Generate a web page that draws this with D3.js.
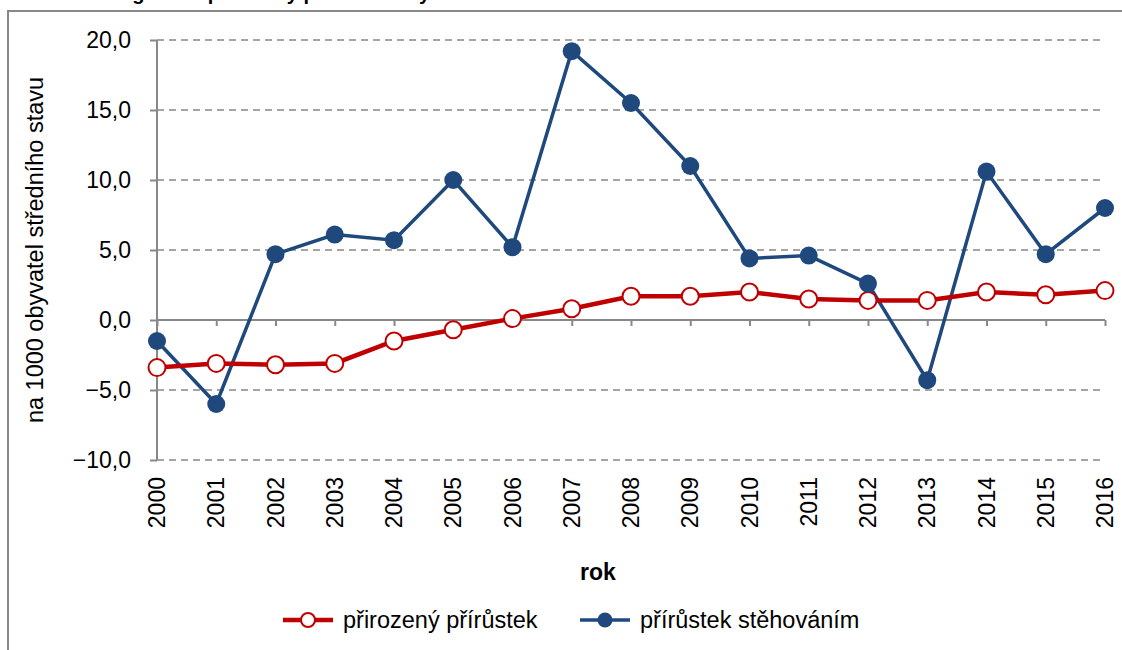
<!DOCTYPE html>
<html><head><meta charset="utf-8">
<script src="https://cdn.jsdelivr.net/npm/d3@7"></script>
<style>body{margin:0;background:#fff}svg{display:block;font-family:"Liberation Sans",Arial,sans-serif}</style>
</head><body><svg id="c" width="1122" height="650"></svg>
<script>
const years = [2000,2001,2002,2003,2004,2005,2006,2007,2008,2009,2010,2011,2012,2013,2014,2015,2016];
const prirozeny = [-3.4,-3.1,-3.2,-3.1,-1.5,-0.7,0.1,0.8,1.7,1.7,2.0,1.5,1.4,1.4,2.0,1.8,2.1];
const stehovanim = [-1.5,-6.0,4.7,6.1,5.7,10.0,5.2,19.2,15.5,11.0,4.4,4.6,2.6,-4.3,10.6,4.7,8.0];
const yTicks = [-10,-5,0,5,10,15,20];
const seriesNames = ["přirozený přírůstek","přírůstek stěhováním"];
const titleText = "Migrace a přirozený přírůstek obyvatelstva";
const yTitle = "na 1000 obyvatel středního stavu";
const xTitle = "rok";

(function(){
const svg = d3.select("#c");
const red = "#C00000", blue = "#1F497D", gray = "#888888";
const pL = 157, pR = 1105, pT = 40, pB = 460;
const fs = 23;

svg.append("rect").attr("x",8).attr("y",11).attr("width",1140).attr("height",660)
  .attr("fill","none").attr("stroke",gray).attr("stroke-width",2);

svg.append("text").attr("x",110).attr("y",0).attr("font-weight","bold").attr("font-size",20).text(titleText);

const x = d3.scalePoint().domain(years).range([pL,pR]);
const y = d3.scaleLinear().domain([-10,20]).range([pB,pT]);

svg.append("g").selectAll("line").data(yTicks.filter(d=>d!==0)).join("line")
  .attr("x1",pL).attr("x2",pR).attr("y1",d=>y(d)).attr("y2",d=>y(d))
  .attr("stroke",gray).attr("stroke-width",1.6).attr("stroke-dasharray","7,5");

const ya = svg.append("g").attr("transform",`translate(${pL},0)`)
  .call(d3.axisLeft(y).tickValues(yTicks).tickSize(7).tickPadding(19).tickFormat(d=>d3.format(".1f")(d).replace(".",",")));
ya.select(".domain").attr("stroke",gray).attr("stroke-width",2).attr("d",`M0,${pT}V${pB}`);
ya.selectAll(".tick line").attr("stroke",gray).attr("stroke-width",2);
ya.selectAll(".tick text").attr("font-size",fs).attr("fill","#000").attr("font-family","Liberation Sans, Arial");

const xa = svg.append("g").attr("transform",`translate(0,${y(0)})`)
  .call(d3.axisBottom(x).tickSize(6).tickFormat(""));
xa.select(".domain").attr("stroke",gray).attr("stroke-width",2).attr("d",`M${pL},0H${pR}`);
xa.selectAll(".tick line").attr("stroke",gray).attr("stroke-width",2);

svg.append("g").selectAll("text").data(years).join("text")
  .attr("transform",d=>`translate(${x(d)+8},477) rotate(-90)`)
  .attr("text-anchor","end").attr("font-size",fs).text(d=>d);

svg.append("text").attr("x",598).attr("y",580).attr("text-anchor","middle")
  .attr("font-weight","bold").attr("font-size",fs).text(xTitle);

svg.append("text").attr("transform","translate(43,250) rotate(-90)").attr("text-anchor","middle")
  .attr("font-size",23.5).text(yTitle);

const line = d3.line().x((d,i)=>x(years[i])).y(d=>y(d));
svg.append("path").datum(stehovanim).attr("d",line).attr("fill","none").attr("stroke",blue).attr("stroke-width",3.5);
svg.append("path").datum(prirozeny).attr("d",line).attr("fill","none").attr("stroke",red).attr("stroke-width",4.5);
svg.append("g").selectAll("circle").data(prirozeny).join("circle")
  .attr("cx",(d,i)=>x(years[i])).attr("cy",d=>y(d)).attr("r",8.5)
  .attr("fill","#fff").attr("stroke",red).attr("stroke-width",2);
svg.append("g").selectAll("circle").data(stehovanim).join("circle")
  .attr("cx",(d,i)=>x(years[i])).attr("cy",d=>y(d)).attr("r",9)
  .attr("fill",blue);

const lg = svg.append("g");
const lx = [283,580];
seriesNames.forEach((n,i)=>{
  const c = i===0?red:blue;
  lg.append("line").attr("x1",lx[i]).attr("x2",lx[i]+50).attr("y1",620).attr("y2",620).attr("stroke",c).attr("stroke-width",i===0?4.5:3.5);
  if(i===0) lg.append("circle").attr("cx",lx[i]+25).attr("cy",620).attr("r",7).attr("fill","#fff").attr("stroke",red).attr("stroke-width",2);
  else lg.append("circle").attr("cx",lx[i]+25).attr("cy",620).attr("r",7.5).attr("fill",blue);
  lg.append("text").attr("x",lx[i]+60).attr("y",628).attr("font-size",23.5).text(n);
});
})();
</script></body></html>
